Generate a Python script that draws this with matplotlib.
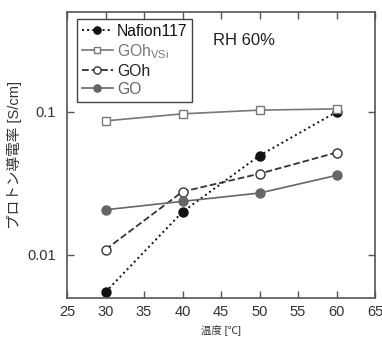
import matplotlib
matplotlib.use("Agg")
import matplotlib.pyplot as plt

plt.rcParams['font.family'] = ['Liberation Sans', 'Noto Sans CJK JP', 'DejaVu Sans']

temps = [30, 40, 50, 60]
nafion = [0.0055, 0.020, 0.0495, 0.100]
goh_vsi = [0.0866, 0.097, 0.103, 0.105]
goh = [0.0109, 0.0277, 0.037, 0.052]
go = [0.0207, 0.0237, 0.0271, 0.036]

xticks = [25, 30, 35, 40, 45, 50, 55, 60, 65]

fig = plt.figure(figsize=(3.82, 3.38), dpi=100)
ax = fig.add_axes([67 / 382, 40 / 338, 308 / 382, 286 / 338])

ax.plot(temps, nafion, ':', color='#111111', lw=1.4, marker='o', ms=6.5,
        mfc='#111111', mec='#111111', label='Nafion117')
ax.plot(temps, goh_vsi, '-', color='#777777', lw=1.2, marker='s', ms=6,
        mfc='white', mec='#777777', label='GOh$_{\\mathregular{VSi}}$')
ax.plot(temps, goh, '--', color='#333333', lw=1.3, marker='o', ms=6.5,
        mfc='white', mec='#333333', label='GOh')
ax.plot(temps, go, '-', color='#666666', lw=1.2, marker='o', ms=6.5,
        mfc='#666666', mec='#666666', label='GO')

ax.set_yscale('log')
ax.set_xlim(25, 65)
ax.set_ylim(0.005, 0.5)
ax.set_xticks(xticks)
ax.set_yticks([0.01, 0.1])
ax.set_yticklabels(['0.01', '0.1'])
ax.minorticks_off()
ax.tick_params(direction='in', top=True, right=True, length=5, width=1,
               color='#555555', labelsize=10.5, labelcolor='#333333')
ax.tick_params(axis='y', pad=8)
ax.tick_params(axis='x', pad=5)
for s in ax.spines.values():
    s.set_color('#555555')
    s.set_linewidth(1.2)

ax.set_xlabel('温度 [℃]', fontsize=7.5, color='#333333', labelpad=4)
ax.set_ylabel('プロトン導電率 [S/cm]', fontsize=10.5, color='#333333', labelpad=4)

ax.text(0.474, 0.899, 'RH 60%', transform=ax.transAxes, fontsize=12,
        color='#222222', va='center')

leg = ax.legend(loc='upper left', bbox_to_anchor=(0.032, 0.9755), fontsize=11.3,
                handlelength=2.0, handletextpad=0.25, labelspacing=0.2,
                borderpad=0.3, fancybox=False, framealpha=1, markerscale=0.8,
                edgecolor='#444444', borderaxespad=0)
leg.get_frame().set_linewidth(1.0)
for t, c in zip(leg.get_texts(), ['#111111', '#777777', '#222222', '#666666']):
    t.set_color(c)

fig.savefig('out.png', dpi=100)
